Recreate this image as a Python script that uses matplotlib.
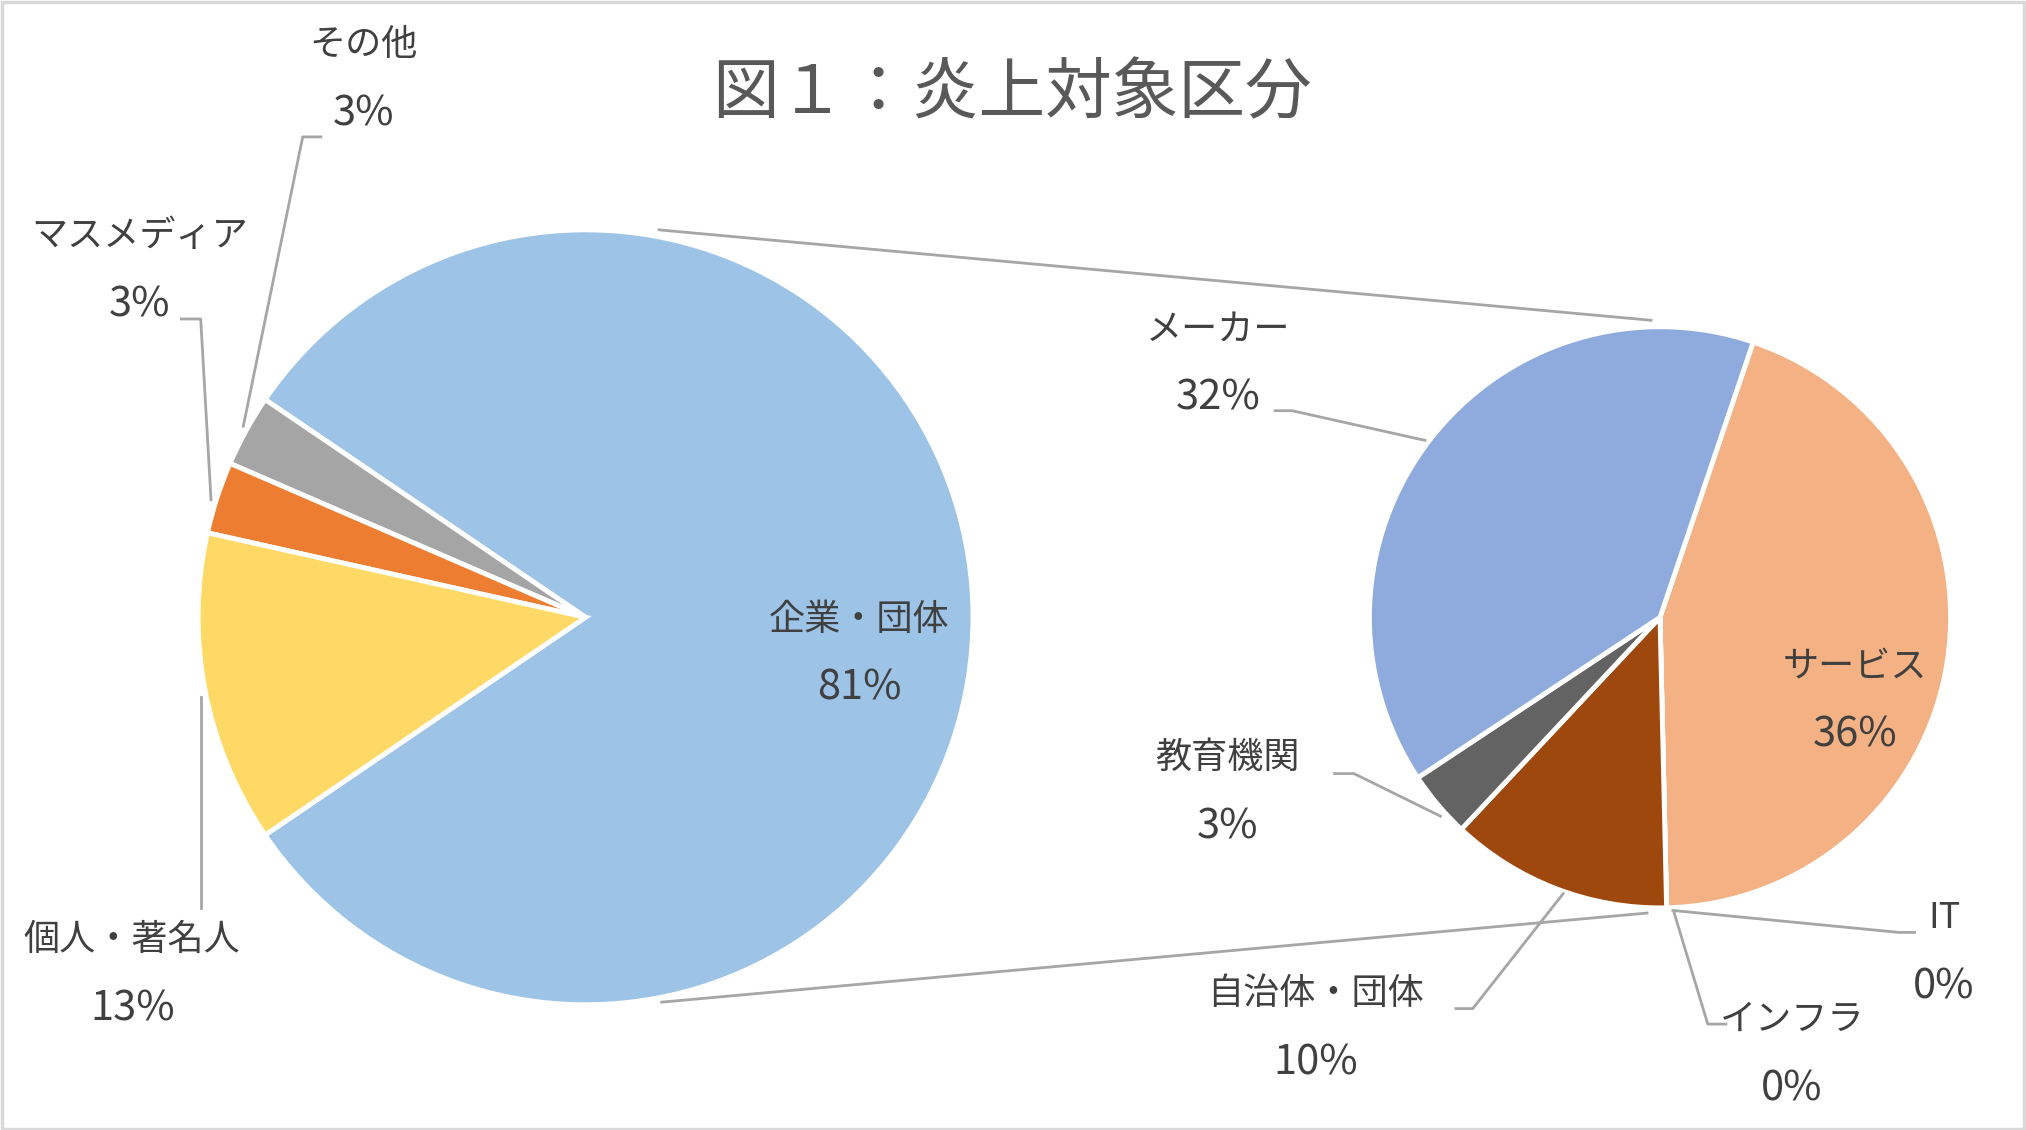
import matplotlib.pyplot as plt
from matplotlib.patches import Rectangle

plt.rcParams['font.family'] = ['Noto Sans CJK JP', 'DejaVu Sans']

# ----------------------------
# DATA
# ----------------------------
title = "図１：炎上対象区分"

main_labels = ["企業・団体", "その他", "マスメディア", "個人・著名人"]
main_values = [81, 3, 3, 13]
main_colors = ["#9DC3E6", "#A5A5A5", "#ED7D31", "#FFD966"]

sub_labels = ["サービス", "IT", "インフラ", "自治体・団体", "教育機関", "メーカー"]
sub_values = [36, 0, 0, 10, 3, 32]
sub_colors = ["#F4B183", "#FFC000", "#5B9BD5", "#9E480E", "#636363", "#8FAADC"]

# ----------------------------
# LAYOUT (reference coords, y down)
# ----------------------------
W, H = 1568, 875
TXT = "#404040"
LINE = "#A6A6A6"
FS = 26
FS_PCT = 30


def Y(y):
    return H - y


fig = plt.figure(figsize=(20.26, 11.3), dpi=100)
ax = fig.add_axes([0, 0, 1, 1])

# left pie
split = main_values[0] / sum(main_values) * 360
ax.pie(main_values, colors=main_colors, startangle=-split / 2, counterclock=True,
       center=(453, Y(478)), radius=300, frame=True,
       wedgeprops=dict(edgecolor="white", linewidth=3.5))

# right pie
ax.pie(sub_values, colors=sub_colors, startangle=71.3, counterclock=False,
       center=(1285, Y(478)), radius=225, frame=True,
       wedgeprops=dict(edgecolor="white", linewidth=3.5))

# connector lines
ax.plot([510, 1278], [Y(178), Y(248)], color=LINE, lw=2)
ax.plot([512, 1275], [Y(776), Y(707)], color=LINE, lw=2)

# labels: (x, y) of the category name
pos = {
    "その他": (281, 35),
    "マスメディア": (108, 183),
    "個人・著名人": (102, 728),
    "企業・団体": (665, 480),
    "メーカー": (943, 255),
    "サービス": (1436, 516),
    "教育機関": (950, 587),
    "自治体・団体": (1018, 770),
    "IT": (1505, 711),
    "インフラ": (1387, 790),
}
all_vals = dict(zip(main_labels, main_values))
all_vals.update(zip(sub_labels, sub_values))

for name, (x, y) in pos.items():
    ax.text(x, Y(y), name, ha="center", va="center", fontsize=FS, color=TXT)
    ax.text(x, Y(y + 53), f"{all_vals[name]}%", ha="center", va="center",
            fontsize=FS_PCT, color=TXT)

# leader lines
leaders = [
    [(248, 106), (234, 106), (188, 330)],
    [(140, 247), (155, 247), (163, 387)],
    [(155, 703), (155, 540)],
    [(987, 318), (1000, 318), (1103, 341)],
    [(1033, 599), (1048, 599), (1115, 632)],
    [(1127, 781), (1140, 781), (1210, 692)],
    [(1482, 722), (1470, 722), (1295, 705)],
    [(1336, 793), (1322, 793), (1296, 707)],
]
for pts in leaders:
    ax.plot([p[0] for p in pts], [Y(p[1]) for p in pts], color=LINE, lw=2)

ax.text(783, Y(73), title, ha="center", va="center", fontsize=48, color="#595959")

ax.set_xlim(0, W)
ax.set_ylim(0, H)
ax.axis("off")

fig.patches.append(Rectangle((0.001, 0.001), 0.998, 0.997, transform=fig.transFigure,
                             fill=False, edgecolor="#D9D9D9", lw=2.5))

plt.savefig("out.png", facecolor="white")
